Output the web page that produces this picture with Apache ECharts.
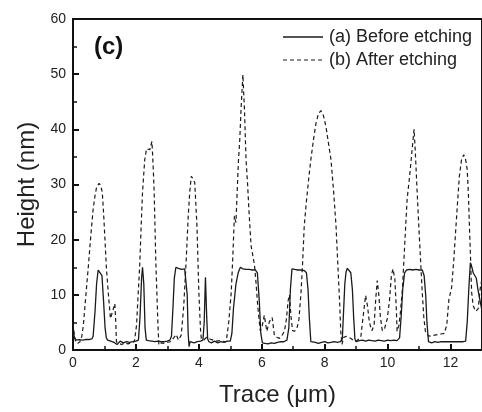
<!DOCTYPE html>
<html>
<head>
<meta charset="utf-8">
<script src="https://cdn.jsdelivr.net/npm/echarts@6/dist/echarts.min.js"></script>
<style>
html,body{margin:0;padding:0;background:#fff;}
#chart{width:482px;height:412px;}
</style>
</head>
<body>
<div id="chart"></div>
<script>
// Trace positions (µm) and heights (nm)
var traceA = [0,0.05,0.1,0.2,0.3,0.4,0.5,0.6,0.64,0.7,0.75,0.8,0.86,0.92,0.97,1.02,1.06,1.1,1.2,1.3,1.4,1.5,1.6,1.7,1.8,1.9,2.0,2.08,2.13,2.18,2.21,2.25,2.29,2.33,2.4,2.5,2.6,2.7,2.8,2.9,3.0,3.08,3.13,3.18,3.22,3.27,3.35,3.45,3.55,3.6,3.63,3.66,3.69,3.72,3.78,3.85,3.95,4.05,4.13,4.17,4.21,4.25,4.28,4.32,4.4,4.5,4.6,4.7,4.8,4.9,5.0,5.05,5.1,5.18,5.25,5.32,5.4,5.5,5.6,5.7,5.8,5.86,5.92,5.97,6.02,6.1,6.2,6.3,6.4,6.5,6.6,6.7,6.8,6.86,6.91,6.96,7.05,7.15,7.25,7.35,7.42,7.47,7.51,7.56,7.6,7.7,7.8,7.9,8.0,8.1,8.2,8.3,8.4,8.5,8.56,8.6,8.64,8.68,8.72,8.78,8.83,8.88,8.92,8.96,9.0,9.1,9.2,9.3,9.4,9.5,9.6,9.7,9.8,9.9,10.0,10.1,10.2,10.3,10.38,10.43,10.48,10.54,10.6,10.7,10.8,10.9,11.0,11.1,11.16,11.21,11.25,11.3,11.4,11.5,11.6,11.7,11.8,11.9,12.0,12.1,12.2,12.3,12.4,12.48,12.53,12.58,12.63,12.67,12.72,12.77,12.82,12.87,12.92,12.97,13.0];
var heightBefore = [3.5,2.2,1.8,1.9,1.8,1.9,1.9,2.0,2.5,7,12,14.5,14.8,13.5,9,4,2.2,1.8,1.6,1.4,1.0,1.6,1.3,1.5,1.4,1.5,1.6,1.8,6,13,15,12,4,1.8,1.7,1.6,1.5,1.6,1.5,1.5,1.6,1.8,2.5,8,13,15,14.8,14.6,14.7,14.5,10,3,0.6,1.5,1.8,1.3,1.5,1.6,1.8,5,13.2,6,2,1.5,1.3,1.6,1.3,1.5,1.4,1.6,1.6,3,7.5,12,14,15,14.7,14.6,14.6,14.5,14.5,14,9,3,1.3,1.2,1.1,1.3,1.2,1.4,1.5,1.5,1.8,4,11,14.7,14.6,14.5,14.5,14.4,14,11,6,1.5,1.2,1.4,1.2,1.4,1.5,1.3,1.4,1.5,1.4,1.5,2,7,12,14.2,14.8,14.6,14,11,6,2,1.5,1.7,1.8,1.6,1.8,1.7,1.6,1.8,1.7,1.6,1.8,1.7,1.8,1.7,2.2,6,11,14,14.5,14.6,14.5,14.6,14.5,14.5,13.5,10,5,1.5,1.3,1.5,1.4,1.5,1.5,1.5,1.5,1.5,1.5,1.5,1.5,1.6,5,11,15.8,15.2,14,14.3,13,11,9.5,8,7];

var traceB = [0,0.04,0.08,0.15,0.22,0.28,0.33,0.41,0.49,0.57,0.64,0.7,0.75,0.83,0.88,0.93,0.97,1.01,1.06,1.12,1.19,1.26,1.33,1.36,1.38,1.45,1.55,1.65,1.75,1.85,1.95,2.02,2.07,2.12,2.17,2.21,2.28,2.34,2.39,2.44,2.48,2.51,2.55,2.58,2.63,2.7,2.73,2.8,2.9,3.0,3.1,3.2,3.28,3.35,3.44,3.52,3.6,3.66,3.71,3.76,3.82,3.87,3.94,4.0,4.05,4.08,4.15,4.25,4.35,4.45,4.55,4.65,4.75,4.87,4.95,5.03,5.08,5.13,5.18,5.22,5.26,5.3,5.34,5.4,5.45,5.5,5.55,5.59,5.66,5.72,5.77,5.82,5.87,5.95,6.02,6.08,6.16,6.24,6.33,6.4,6.48,6.56,6.64,6.72,6.78,6.84,6.88,6.93,6.98,7.05,7.12,7.18,7.25,7.3,7.35,7.42,7.5,7.56,7.64,7.72,7.8,7.88,7.96,8.04,8.12,8.2,8.28,8.36,8.43,8.48,8.51,8.55,8.6,8.7,8.8,8.9,9.0,9.08,9.15,9.22,9.3,9.36,9.42,9.5,9.57,9.62,9.67,9.72,9.77,9.83,9.9,9.99,10.06,10.12,10.17,10.23,10.28,10.3,10.36,10.41,10.47,10.52,10.57,10.62,10.68,10.73,10.79,10.84,10.88,10.94,11.0,11.05,11.1,11.15,11.2,11.3,11.4,11.5,11.6,11.7,11.8,11.88,11.95,12.03,12.1,12.16,12.22,12.28,12.35,12.42,12.48,12.53,12.57,12.6,12.64,12.67,12.72,12.8,12.88,12.94,13.0];
var heightAfter = [4.8,3,1.5,1.2,1.5,2.5,4.5,10,15.3,21,25.5,28,29.5,30.2,29.8,28.6,25,20.7,15,10.5,5.7,7,8.4,5,1.5,1.2,1.0,1.3,1.1,1.3,1.5,4.5,10,15.3,23,28.6,34.5,36.5,36.6,36.3,37.2,37.8,33,28.6,16.5,4.5,0.9,1.3,1.2,1.4,1.5,2.2,2.8,1.8,2.7,8,16.5,24,28.6,31.5,31,30.3,22.5,10.5,4,2,1.8,2.3,2.0,1.8,1.6,1.7,1.6,1.5,5,10.5,17,24.3,23.1,29,34.5,38,43.5,49.9,43.5,34.5,30,25.5,18.9,17,15.3,12,8.1,3.5,4.5,6.3,3.4,5.1,5.9,2.7,2.3,2.1,2.6,3.4,5.5,9,10,6,3.5,3.4,4,5.5,10.6,16,22.5,27,31.5,34.5,38,41,42.8,43.4,42.5,40.5,37.5,34.5,29,22.5,14,8,3.4,1.0,2.3,2.5,2.2,1.8,1.6,2.0,2.4,6,9.9,8,5,3.5,4.5,9,12.6,10,6,3.5,3.8,5.7,9,13.5,14.7,12.9,7,3.4,4.5,7,11,16.5,22,27.3,30.5,33.3,37,40,36,28.5,21.5,16,10.5,6,3.4,2.5,2.6,2.7,2.8,2.9,3.0,4.5,9.3,11.1,16,21.3,26.5,31.5,34.5,35.4,34.5,32.7,28,22.5,16,10.5,8,7,7.5,11,13];

var xTicks = {min: 0, max: 13, interval: 2};
var yTicks = {min: 0, max: 60, interval: 10};
var seriesNames = ['(a) Before etching', '(b) After etching'];

function pairs(xs, ys){ var out=[]; for (var i=0;i<xs.length;i++) out.push([xs[i], ys[i]]); return out; }

var FONT = '"Liberation Sans", Arial, sans-serif';
var INK = '#1a1a1a';
var chart = echarts.init(document.getElementById('chart'), null, {renderer:'canvas'});
chart.setOption({
  animation: false,
  backgroundColor: '#fff',
  grid: {left: 73, top: 19, width: 409, height: 333, show: true, borderColor: '#111', borderWidth: 2, backgroundColor: 'transparent'},
  graphic: [
    {type: 'text', left: 94, top: 35, style: {text: '(c)', font: 'bold 24px ' + FONT, fill: '#111'}},
    {type: 'line', shape: {x1: 283, y1: 37, x2: 323, y2: 37}, style: {stroke: INK, lineWidth: 1.3}},
    {type: 'line', shape: {x1: 283, y1: 60, x2: 323, y2: 60}, style: {stroke: INK, lineWidth: 1.2, lineDash: [4, 3]}},
    {type: 'text', x: 329, y: 37, style: {text: seriesNames[0], font: '18px ' + FONT, fill: '#222', textVerticalAlign: 'middle'}},
    {type: 'text', x: 329, y: 60, style: {text: seriesNames[1], font: '18px ' + FONT, fill: '#222', textVerticalAlign: 'middle'}}
  ],
  xAxis: {
    type: 'value', min: xTicks.min, max: xTicks.max, interval: xTicks.interval,
    name: 'Trace (μm)', nameLocation: 'middle', nameGap: 33,
    nameTextStyle: {fontFamily: FONT, fontSize: 24, color: '#222'},
    axisLine: {lineStyle: {color: '#111', width: 2}},
    axisTick: {inside: true, length: 6, lineStyle: {color: '#111', width: 2}},
    minorTick: {show: true, splitNumber: 2, length: 4, lineStyle: {color: '#111', width: 1.5}},
    splitLine: {show: false},
    axisLabel: {fontFamily: FONT, fontSize: 14, color: '#222', margin: 6, showMaxLabel: false}
  },
  yAxis: {
    type: 'value', min: yTicks.min, max: yTicks.max, interval: yTicks.interval,
    name: 'Height (nm)', nameLocation: 'middle', nameGap: 34,
    nameTextStyle: {fontFamily: FONT, fontSize: 24, color: '#222'},
    axisLine: {lineStyle: {color: '#111', width: 2}},
    axisTick: {inside: true, length: 6, lineStyle: {color: '#111', width: 2}},
    minorTick: {show: true, splitNumber: 2, length: 4, lineStyle: {color: '#111', width: 1.5}},
    splitLine: {show: false},
    axisLabel: {fontFamily: FONT, fontSize: 14, color: '#222', margin: 7}
  },
  series: [
    {name: seriesNames[0], type: 'line', symbol: 'none', data: pairs(traceA, heightBefore),
     lineStyle: {color: INK, width: 1.3}, itemStyle: {color: INK}},
    {name: seriesNames[1], type: 'line', symbol: 'none', data: pairs(traceB, heightAfter),
     lineStyle: {color: INK, width: 1.2, type: [4, 3]}, itemStyle: {color: INK}}
  ]
});
</script>
</body>
</html>
